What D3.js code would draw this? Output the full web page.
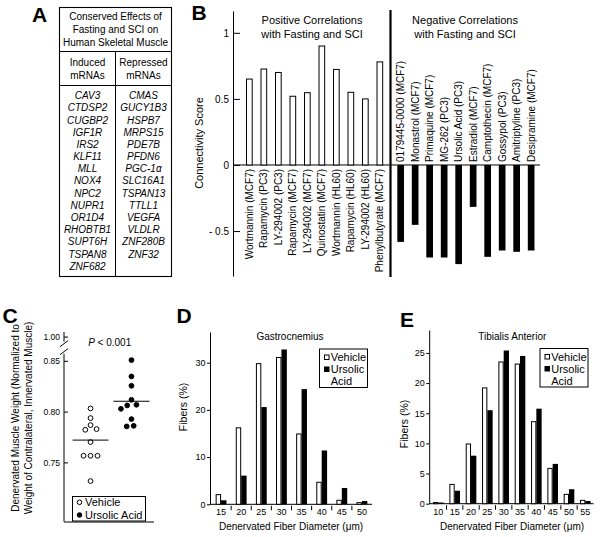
<!DOCTYPE html>
<html><head><meta charset="utf-8">
<script src="https://cdn.jsdelivr.net/npm/d3@7"></script>
<style>
body{margin:0;background:#fff}
svg{display:block}
text{fill:#000}
</style>
</head><body>
<svg id="c" width="600" height="537"></svg>
<script>
// ---------- DATA ----------
// Panel A
const tableTitle = ["Conserved Effects of", "Fasting and SCI on", "Human Skeletal Muscle"];
const inducedHeader = ["Induced", "mRNAs"];
const repressedHeader = ["Repressed", "mRNAs"];
const inducedGenes = ["CAV3","CTDSP2","CUGBP2","IGF1R","IRS2","KLF11","MLL","NOX4","NPC2","NUPR1","OR1D4","RHOBTB1","SUPT6H","TSPAN8","ZNF682"];
const repressedGenes = ["CMAS","GUCY1B3","HSPB7","MRPS15","PDE7B","PFDN6","PGC-1α","SLC16A1","TSPAN13","TTLL1","VEGFA","VLDLR","ZNF280B","ZNF32"];

// Panel B
const posDrugs = ["Wortmannin (MCF7)","Rapamycin (PC3)","LY-294002 (PC3)","Rapamycin (MCF7)","LY-294002 (MCF7)","Quinostatin (MCF7)","Wortmannin (HL60)","Rapamycin (HL60)","LY-294002 (HL60)","Phenylbutyrate (MCF7)"];
const posScores = [0.65, 0.726, 0.70, 0.52, 0.547, 0.90, 0.723, 0.55, 0.50, 0.78];
const negDrugs = ["0179445-0000 (MCF7)","Monastrol (MCF7)","Primaquine (MCF7)","MG-262 (PC3)","Ursolic Acid (PC3)","Estradiol (MCF7)","Camptothecin (MCF7)","Gossypol (PC3)","Amitriptyline (PC3)","Desipramine (MCF7)"];
const negScores = [-0.582, -0.453, -0.70, -0.70, -0.75, -0.317, -0.695, -0.647, -0.657, -0.647];
const bTicks = [1, 0.5, 0, -0.5];
const bTickLabels = ["1", "0.5", "0", "- 0.5"];
const posTitle = ["Positive Correlations", "with Fasting and SCI"];
const negTitle = ["Negative Correlations", "with Fasting and SCI"];

// Panel C
const cGroups = ["Vehicle", "Ursolic Acid"];
const vehicleWeights = [0.8031, 0.7936, 0.7867, 0.7828, 0.7821, 0.770, 0.7565, 0.7565, 0.7565, 0.7316];
const ursolicWeights = [0.8507, 0.8346, 0.8254, 0.8116, 0.8067, 0.8061, 0.8027, 0.7926, 0.786, 0.7854];
const cTicks = [0.75, 0.80, 0.85, 1.00];
const cYLabel = ["Denervated Muscle Weight (Normalized to", "Weight of Contralateral, Innervated Muscle)"];

// Panel D
const dDiameters = ["15","20","25","30","35","40","45","50"];
const dVehicle = [2.05, 16.2, 29.8, 31.1, 14.9, 4.66, 0.85, 0.35];
const dUrsolic = [0.85, 6.07, 20.6, 32.8, 24.4, 11.4, 3.46, 0.7];
const dTicks = [0, 10, 20, 30];

// Panel E
const eDiameters = ["10","15","20","25","30","35","40","45","50","55"];
const eVehicle = [0.2, 3.2, 9.9, 19.2, 23.5, 23.15, 13.6, 5.85, 1.55, 0.55];
const eUrsolic = [0.2, 2.15, 7.96, 15.5, 25.4, 24.5, 15.75, 6.6, 2.4, 0.45];
const eTicks = [0, 5, 10, 15, 20, 25];

// ---------- DRAWING ----------
const FONT = '"Liberation Sans", Arial, Helvetica, sans-serif';
const svg = d3.select("#c").style("font-family", FONT);

// Panel letters
const letters = [["A", 32, 21.7], ["B", 191.5, 20], ["C", 2.5, 322.7], ["D", 176.5, 322.7], ["E", 400, 326.5]];
svg.selectAll("text.letter").data(letters).join("text")
  .attr("class", "letter").attr("x", d => d[1]).attr("y", d => d[2])
  .attr("font-size", 21).attr("font-weight", "bold").text(d => d[0]);

// ===== Panel A =====
{
  const g = svg.append("g").attr("font-size", 10);
  const x0 = 59.5, x1 = 171.5, xm = 115.5, y0 = 7.5, y1 = 51.5, y2 = 85.5, y3 = 276.5;
  g.append("rect").attr("x", x0).attr("y", y0).attr("width", x1 - x0).attr("height", y3 - y0)
    .attr("fill", "none").attr("stroke", "#000").attr("stroke-width", 1.1);
  g.append("line").attr("x1", x0).attr("x2", x1).attr("y1", y1).attr("y2", y1).attr("stroke", "#000");
  g.append("line").attr("x1", x0).attr("x2", x1).attr("y1", y2).attr("y2", y2).attr("stroke", "#000");
  g.append("line").attr("x1", xm).attr("x2", xm).attr("y1", y1).attr("y2", y3).attr("stroke", "#000");
  g.selectAll("text.tt").data(tableTitle).join("text").attr("class", "tt")
    .attr("x", (x0 + x1) / 2).attr("y", (d, i) => 20.3 + i * 12.7).attr("text-anchor", "middle").text(d => d);
  g.selectAll("text.ih").data(inducedHeader).join("text").attr("class", "ih")
    .attr("x", (x0 + xm) / 2).attr("y", (d, i) => 66.2 + i * 12.4).attr("text-anchor", "middle").text(d => d);
  g.selectAll("text.rh").data(repressedHeader).join("text").attr("class", "rh")
    .attr("x", (xm + x1) / 2).attr("y", (d, i) => 66.2 + i * 12.4).attr("text-anchor", "middle").text(d => d);
  g.selectAll("text.ig").data(inducedGenes).join("text").attr("class", "ig")
    .attr("x", (x0 + xm) / 2).attr("y", (d, i) => 99.3 + i * 12.17).attr("text-anchor", "middle")
    .attr("font-style", "italic").text(d => d);
  g.selectAll("text.rg").data(repressedGenes).join("text").attr("class", "rg")
    .attr("x", (xm + x1) / 2).attr("y", (d, i) => 99.3 + i * 12.17).attr("text-anchor", "middle")
    .attr("font-style", "italic").text(d => d);
}

// ===== Panel B =====
{
  const g = svg.append("g");
  const axX = 233;
  const yB = d3.scaleLinear().domain([-0.84, 1.165]).range([276, 11]);
  const xP = d3.scaleBand().domain(posDrugs).range([242.1, 387.1]).paddingInner(0.54).paddingOuter(0.27);
  const xN = d3.scaleBand().domain(negDrugs).range([393.4, 538.4]).paddingInner(0.54).paddingOuter(0.27);

  const ax = g.append("g").attr("transform", `translate(${axX},0)`)
    .call(d3.axisLeft(yB).tickValues(bTicks).tickFormat((d, i) => bTickLabels[i])
      .tickSizeInner(-7).tickSizeOuter(0).tickPadding(4));
  ax.selectAll("text").attr("font-size", 10).attr("font-family", FONT).attr("fill", "#000");
  ax.selectAll("line,path").attr("stroke", "#000");

  // zero line
  g.append("line").attr("x1", axX).attr("x2", 540).attr("y1", yB(0)).attr("y2", yB(0)).attr("stroke", "#000");

  const pos = posDrugs.map((d, i) => ({ d, v: posScores[i] }));
  const neg = negDrugs.map((d, i) => ({ d, v: negScores[i] }));
  g.selectAll("rect.pos").data(pos).join("rect").attr("class", "pos")
    .attr("x", p => xP(p.d) + 0.5).attr("y", p => yB(p.v))
    .attr("width", xP.bandwidth() - 1).attr("height", p => yB(0) - yB(p.v))
    .attr("fill", "#fff").attr("stroke", "#000").attr("stroke-width", 1);
  g.selectAll("rect.neg").data(neg).join("rect").attr("class", "neg")
    .attr("x", p => xN(p.d)).attr("y", yB(0))
    .attr("width", xN.bandwidth()).attr("height", p => yB(p.v) - yB(0))
    .attr("fill", "#000");

  g.selectAll("text.pl").data(pos).join("text").attr("class", "pl")
    .attr("transform", p => `translate(${xP(p.d) + xP.bandwidth() / 2},${yB(0) + 4}) rotate(-90)`)
    .attr("dy", "0.36em").attr("text-anchor", "end").attr("font-size", 10).text(p => p.d);
  g.selectAll("text.nl").data(neg).join("text").attr("class", "nl")
    .attr("transform", p => `translate(${xN(p.d) + xN.bandwidth() / 2},${yB(0) - 3}) rotate(-90)`)
    .attr("dy", "0.36em").attr("text-anchor", "start").attr("font-size", 10).text(p => p.d);

  // separator
  g.append("line").attr("x1", 390.5).attr("x2", 390.5).attr("y1", 10).attr("y2", 277)
    .attr("stroke", "#000").attr("stroke-width", 2.2);

  g.selectAll("text.ptitle").data(posTitle).join("text").attr("class", "ptitle")
    .attr("x", 312).attr("y", (d, i) => 24 + i * 14).attr("text-anchor", "middle").attr("font-size", 11).text(d => d);
  g.selectAll("text.ntitle").data(negTitle).join("text").attr("class", "ntitle")
    .attr("x", 465).attr("y", (d, i) => 24 + i * 14).attr("text-anchor", "middle").attr("font-size", 11).text(d => d);

  g.append("text").attr("transform", `translate(199,143) rotate(-90)`).attr("dy", "0.36em")
    .attr("text-anchor", "middle").attr("font-size", 11).text("Connectivity Score");
}

// ===== Panel C =====
{
  const g = svg.append("g");
  const axX = 64, axY = 522;
  const yC = d3.scaleLinear().domain([0.6916, 0.857, 0.9955, 1.004]).range([521.7, 353.7, 341.7, 332]);
  const xC = d3.scalePoint().domain(cGroups).range([66, 156]).padding(0.6);

  const ax = g.append("g").attr("transform", `translate(${axX},0)`)
    .call(d3.axisLeft(yC).tickValues(cTicks).tickFormat(d3.format(".2f"))
      .tickSizeInner(-4).tickSizeOuter(0).tickPadding(4));
  ax.select("path.domain").remove();
  ax.selectAll("text").attr("font-size", 8.5).attr("font-family", FONT).attr("fill", "#000");
  ax.selectAll("line").attr("stroke", "#000");
  // broken axis segments
  g.append("line").attr("x1", axX).attr("x2", axX).attr("y1", yC(0.6916)).attr("y2", yC(0.857)).attr("stroke", "#000");
  g.append("line").attr("x1", axX).attr("x2", axX).attr("y1", yC(0.9955)).attr("y2", yC(1.004)).attr("stroke", "#000");
  [yC(0.9955) + 2, yC(0.857) - 2].forEach(yy => {
    g.append("line").attr("x1", axX - 4).attr("x2", axX + 4).attr("y1", yy + 3).attr("y2", yy - 3).attr("stroke", "#000");
  });
  // x axis
  g.append("line").attr("x1", axX).attr("x2", 154).attr("y1", axY).attr("y2", axY).attr("stroke", "#000");

  // beeswarm placement
  function swarm(values, D) {
    const placed = [], off = new Array(values.length);
    const order = values.map((v, i) => i).sort((a, b) => values[b] - values[a]);
    for (const i of order) {
      const y = yC(values[i]);
      let best = null;
      for (let s = 0; s <= 40 && best === null; s += 0.25) {
        for (const x of (s === 0 ? [0] : [s, -s])) {
          if (placed.every(p => Math.hypot(p.x - x, p.y - y) >= D)) { best = x; break; }
        }
      }
      placed.push({ x: best, y }); off[i] = best;
    }
    return off;
  }
  const groups = [[cGroups[0], vehicleWeights, "#fff"], [cGroups[1], ursolicWeights, "#000"]];
  groups.forEach(([name, vals, fill]) => {
    const off = swarm(vals, 7);
    g.selectAll(null).data(vals).join("circle")
      .attr("cx", (v, i) => xC(name) + off[i]).attr("cy", v => yC(v)).attr("r", 2.4)
      .attr("fill", fill).attr("stroke", "#000").attr("stroke-width", 1);
    const m = d3.mean(vals);
    g.append("line").attr("x1", xC(name) - 18).attr("x2", xC(name) + 18)
      .attr("y1", yC(m)).attr("y2", yC(m)).attr("stroke", "#000").attr("stroke-width", 1);
  });

  const p = g.append("text").attr("x", 109.7).attr("y", 346).attr("text-anchor", "middle").attr("font-size", 10);
  p.append("tspan").attr("font-style", "italic").text("P");
  p.append("tspan").text(" < 0.001");

  // legend
  g.append("rect").attr("x", 72.5).attr("y", 496.5).attr("width", 73).attr("height", 24.5)
    .attr("fill", "#fff").attr("stroke", "#000").attr("stroke-width", 1);
  groups.forEach(([name, vals, fill], i) => {
    const yy = 502.3 + i * 12.7;
    g.append("circle").attr("cx", 79.5).attr("cy", yy).attr("r", 2.3).attr("fill", fill).attr("stroke", "#000");
    g.append("text").attr("x", 85).attr("y", yy).attr("dy", "0.36em").attr("font-size", 11).text(name);
  });

  g.selectAll("text.cyl").data(cYLabel).join("text").attr("class", "cyl")
    .attr("transform", (d, i) => `translate(${15.7 + i * 12.6},418) rotate(-90)`)
    .attr("dy", "0.36em").attr("text-anchor", "middle").attr("font-size", 10).text(d => d);
}

// ===== Panels D & E =====
function drawHist(cfg) {
  const g = svg.append("g");
  const y = d3.scaleLinear().domain(cfg.yDomain).range(cfg.yRange);
  const x = d3.scaleBand().domain(cfg.cats).range(cfg.xRange);
  const xs = d3.scaleBand().domain(["Vehicle", "Ursolic"]).range([0, x.bandwidth()]).paddingOuter(cfg.subPad);
  const axX = cfg.xRange[0] - 1, y0 = y(0);

  const ax = g.append("g").attr("transform", `translate(${axX},0)`)
    .call(d3.axisLeft(y).tickValues(cfg.ticks).tickSizeInner(3).tickSizeOuter(0).tickPadding(1.5));
  ax.selectAll("text").attr("font-size", 9).attr("font-family", FONT).attr("fill", "#000");
  ax.selectAll("line,path").attr("stroke", "#000");

  const bx = g.append("g").attr("transform", `translate(0,${y0})`)
    .call(d3.axisBottom(x).tickSize(0).tickPadding(4.5));
  bx.select("path.domain").remove();
  bx.selectAll("text").attr("font-size", 9).attr("font-family", FONT).attr("fill", "#000");
  g.append("line").attr("x1", axX).attr("x2", cfg.xRange[1]).attr("y1", y0).attr("y2", y0).attr("stroke", "#000");
  g.selectAll("line.sep").data(cfg.cats.slice(1)).join("line").attr("class", "sep")
    .attr("x1", c => x(c)).attr("x2", c => x(c)).attr("y1", y0 + 1.5).attr("y2", y0 + 6).attr("stroke", "#000");

  const rows = cfg.cats.map((c, i) => ({ c, veh: cfg.veh[i], urs: cfg.urs[i] }));
  g.selectAll("rect.v").data(rows).join("rect").attr("class", "v")
    .attr("x", r => x(r.c) + xs("Vehicle") + 0.5).attr("y", r => y(r.veh))
    .attr("width", xs.bandwidth() - 1).attr("height", r => y0 - y(r.veh))
    .attr("fill", "#fff").attr("stroke", "#000").attr("stroke-width", 1);
  g.selectAll("rect.u").data(rows).join("rect").attr("class", "u")
    .attr("x", r => x(r.c) + xs("Ursolic")).attr("y", r => y(r.urs))
    .attr("width", xs.bandwidth()).attr("height", r => y0 - y(r.urs))
    .attr("fill", "#000");

  g.append("text").attr("x", cfg.titleX).attr("y", 339.5).attr("text-anchor", "middle").attr("font-size", 10).text(cfg.title);
  g.append("text").attr("x", cfg.xlabelX).attr("y", 530).attr("text-anchor", "middle").attr("font-size", 10)
    .text("Denervated Fiber Diameter (μm)");
  g.append("text").attr("transform", `translate(${cfg.ylabelX},${cfg.ylabelY}) rotate(-90)`).attr("dy", "0.36em")
    .attr("text-anchor", "middle").attr("font-size", 10.5).text("Fibers (%)");

  // legend
  const lx = cfg.legend[0], ly = cfg.legend[1];
  g.append("rect").attr("x", lx).attr("y", ly).attr("width", 48).attr("height", 38.5)
    .attr("fill", "#fff").attr("stroke", "#000").attr("stroke-width", 1);
  g.append("rect").attr("x", lx + 5).attr("y", ly + 6).attr("width", 4.5).attr("height", 4.5)
    .attr("fill", "#fff").attr("stroke", "#000");
  g.append("rect").attr("x", lx + 4.5).attr("y", ly + 17.5).attr("width", 5.5).attr("height", 5.5).attr("fill", "#000");
  ["Vehicle", "Ursolic", "Acid"].forEach((t, i) => {
    g.append("text").attr("x", lx + 11.2).attr("y", ly + 8.3 + i * 11.9).attr("dy", "0.36em")
      .attr("font-size", 11).text(t);
  });
}

drawHist({ cats: dDiameters, veh: dVehicle, urs: dUrsolic, xRange: [211, 372],
  yDomain: [0, 36.5], yRange: [504.3, 332], ticks: dTicks, subPad: 0.86,
  title: "Gastrocnemius", titleX: 290, xlabelX: 291, ylabelX: 183, ylabelY: 407, legend: [319.5, 349] });
drawHist({ cats: eDiameters, veh: eVehicle, urs: eUrsolic, xRange: [430.2, 593.5],
  yDomain: [0, 28.8], yRange: [503.7, 330], ticks: eTicks, subPad: 0.54,
  title: "Tibialis Anterior", titleX: 512.3, xlabelX: 512, ylabelX: 404, ylabelY: 424, legend: [540, 348.5] });
</script>
</body></html>
